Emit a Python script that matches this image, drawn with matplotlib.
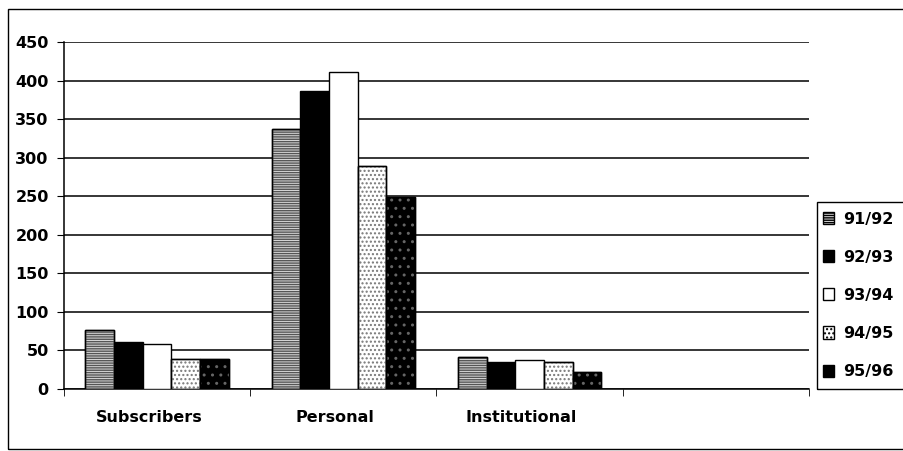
import numpy as np
import matplotlib
matplotlib.use("Agg")
import matplotlib.pyplot as plt
import matplotlib.transforms as mtransforms
from matplotlib.patches import Rectangle, Patch

plt.rcParams['font.family'] = ['DejaVu Sans']

# categories; the chart has a 4th, empty slot on the x axis
categories = ['Subscribers', 'Personal', 'Institutional']
n_slots = 4
series = ['91/92', '92/93', '93/94', '94/95', '95/96']

v_9192 = [76, 337, 41]
v_9293 = [61, 386, 35]
v_9394 = [58, 411, 37]
v_9495 = [39, 289, 35]
v_9596 = [39, 249, 22]
values = [v_9192, v_9293, v_9394, v_9495, v_9596]

# face colour, hatch pattern, hatch colour
styles = [
    ('#d8d8d8', '-------', '#555555'),
    ('black', None, None),
    ('white', None, None),
    ('white', '....', '#777777'),
    ('black', '..', '#666666'),
]

W, H = 904, 451
fig = plt.figure(figsize=(W / 100, H / 100), dpi=100)
ax = fig.add_axes([64 / W, (H - 389) / H, (809 - 64) / W, (389 - 42) / H])

x = np.arange(len(categories))
n = len(series)
bw = 1.0 / (n + 1.5)

for i, (vals, (fc, hatch, hc)) in enumerate(zip(values, styles)):
    pos = x + (i - (n - 1) / 2) * bw
    ax.bar(pos, vals, bw, color=fc, edgecolor='black', linewidth=1, zorder=3)
    if hatch:
        ax.bar(pos, vals, bw, fill=False, hatch=hatch, edgecolor=hc,
               linewidth=0, zorder=4)
        ax.bar(pos, vals, bw, fill=False, edgecolor='black', linewidth=1, zorder=5)

ax.set_xlim(-0.5, n_slots - 0.5)
ax.set_ylim(0, 450)
ax.set_yticks(np.arange(0, 451, 50))
ax.yaxis.grid(True, color='black', linewidth=1.1)
ax.set_axisbelow(True)

ax.set_xticks(x)
ax.set_xticklabels(categories, fontsize=11.5, fontweight='bold')
ax.set_xticks(np.arange(-0.5, n_slots), minor=True)
ax.tick_params(axis='x', which='major', length=0, pad=15)
ax.tick_params(axis='x', which='minor', length=5, direction='out')
ax.tick_params(axis='y', length=5, direction='out', labelsize=11.5, pad=6)
for lab in ax.get_yticklabels():
    lab.set_fontweight('bold')
# category labels sit a little left of the slot centres in the original
shift = mtransforms.ScaledTranslation(-8 / 100, 0, fig.dpi_scale_trans)
for lab in ax.get_xticklabels():
    lab.set_transform(lab.get_transform() + shift)

for s in ['top', 'right']:
    ax.spines[s].set_visible(False)
ax.spines['left'].set_linewidth(1.1)
ax.spines['bottom'].set_linewidth(1.1)

# legend (its box runs off the right edge in the original)
handles = []
for fc, hatch, hc in styles:
    handles.append(Patch(facecolor=fc, edgecolor='black', hatch=hatch))
leg = fig.legend(handles, series, loc='upper left',
                 bbox_to_anchor=(813 / W, 1 - 202 / H),
                 frameon=False,
                 prop={'size': 11.5, 'weight': 'bold'},
                 handlelength=0.7, handleheight=0.8, handletextpad=0.6,
                 labelspacing=1.45, borderpad=0.6, borderaxespad=0)
fig.patches.append(Rectangle((817 / W, 1 - 389 / H), 100 / W, 187 / H,
                             transform=fig.transFigure, fill=False,
                             edgecolor='black', linewidth=1))

# outer chart frame
fig.patches.append(Rectangle((8 / W, 2 / H), 1.0, 1 - 11 / H,
                             transform=fig.transFigure, fill=False,
                             edgecolor='black', linewidth=1))

fig.savefig('out.png', dpi=100)
